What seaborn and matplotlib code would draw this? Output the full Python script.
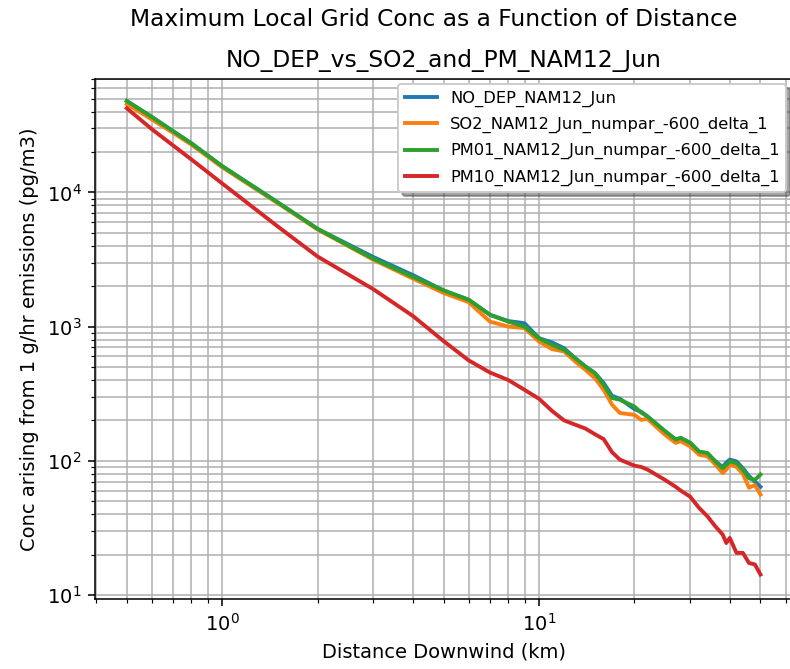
import numpy as np
import pandas as pd
import seaborn as sns
import matplotlib
matplotlib.use("Agg")
import matplotlib.pyplot as plt

# distance downwind (km)
dist = [0.5, 0.6, 0.7, 0.8, 1.0, 1.5, 2, 3, 4, 5, 6, 7, 8, 9, 10, 11, 12, 13, 14,
        15, 16, 17, 18, 20, 21, 22, 25, 27, 28, 30, 32, 34, 36, 38, 39, 40, 42,
        44, 46, 48, 50]

no_dep = [48000, 36500, 28600, 23200, 15700, 8400, 5350, 3300, 2420, 1860, 1585,
          1225, 1100, 1060, 820, 762, 690, 582, 505, 451, 380, 305, 290, 243, 232,
          214, 166, 144, 148, 136, 117, 114, 99, 90, 97, 102, 99, 88, 77, 70, 64]

so2 = [45600, 35000, 27800, 22700, 15400, 8300, 5300, 3150, 2280, 1780, 1520,
       1090, 1000, 975, 774, 679, 653, 550, 477, 413, 338, 262, 227, 220, 202,
       205, 156, 136, 140, 128, 111, 108, 94, 81, 86, 94, 90, 80, 63, 66, 56]

pm01 = [48000, 36500, 28600, 23200, 15700, 8400, 5350, 3200, 2350, 1860, 1585,
        1225, 1090, 1000, 820, 731, 671, 582, 505, 451, 369, 294, 285, 254, 229,
        214, 166, 144, 148, 136, 117, 114, 99, 88, 93, 99, 96, 86, 74, 72, 79]

pm10 = [42400, 29600, 22400, 17600, 11670, 5560, 3330, 1900, 1200, 780, 560,
        455, 400, 338, 290, 235, 200, 186, 174, 158, 145, 116, 102, 92, 90, 86,
        72, 64, 60, 54, 44.6, 38.6, 32.5, 28.2, 24.4, 26.6, 20.6, 20.6, 17.3,
        16.9, 14.2]

series = {
    "NO_DEP_NAM12_Jun": no_dep,
    "SO2_NAM12_Jun_numpar_-600_delta_1": so2,
    "PM01_NAM12_Jun_numpar_-600_delta_1": pm01,
    "PM10_NAM12_Jun_numpar_-600_delta_1": pm10,
}
colors = ["#1f77b4", "#ff7f0e", "#2ca02c", "#d62728"]

fig = plt.figure(figsize=(790 / 140, 669 / 140), dpi=140)
ax = fig.add_axes([0.1203, 0.1046, 0.8823, 0.778])

for (name, vals), c in zip(series.items(), colors):
    df = pd.DataFrame({"dist": dist, "conc": vals})
    sns.lineplot(data=df, x="dist", y="conc", label=name, color=c,
                 linewidth=2, ax=ax)

ax.set_xscale("log")
ax.set_yscale("log")
ax.set_xlim(0.397, 62.9)
ax.set_ylim(9.33, 70600)
ax.grid(True, which="both")

ax.set_xlabel("Distance Downwind (km)")
ax.set_ylabel("Conc arising from 1 g/hr emissions (pg/m3)")
ax.set_title("NO_DEP_vs_SO2_and_PM_NAM12_Jun", fontsize=12)
fig.suptitle("Maximum Local Grid Conc as a Function of Distance",
             x=433.5 / 790, y=1 - 20 / 669, va="center", fontsize=12)

ax.legend(loc="upper right", fontsize="small", shadow=True,
          labelspacing=0.62, borderaxespad=0.35)

fig.savefig("out.png", dpi=140)
